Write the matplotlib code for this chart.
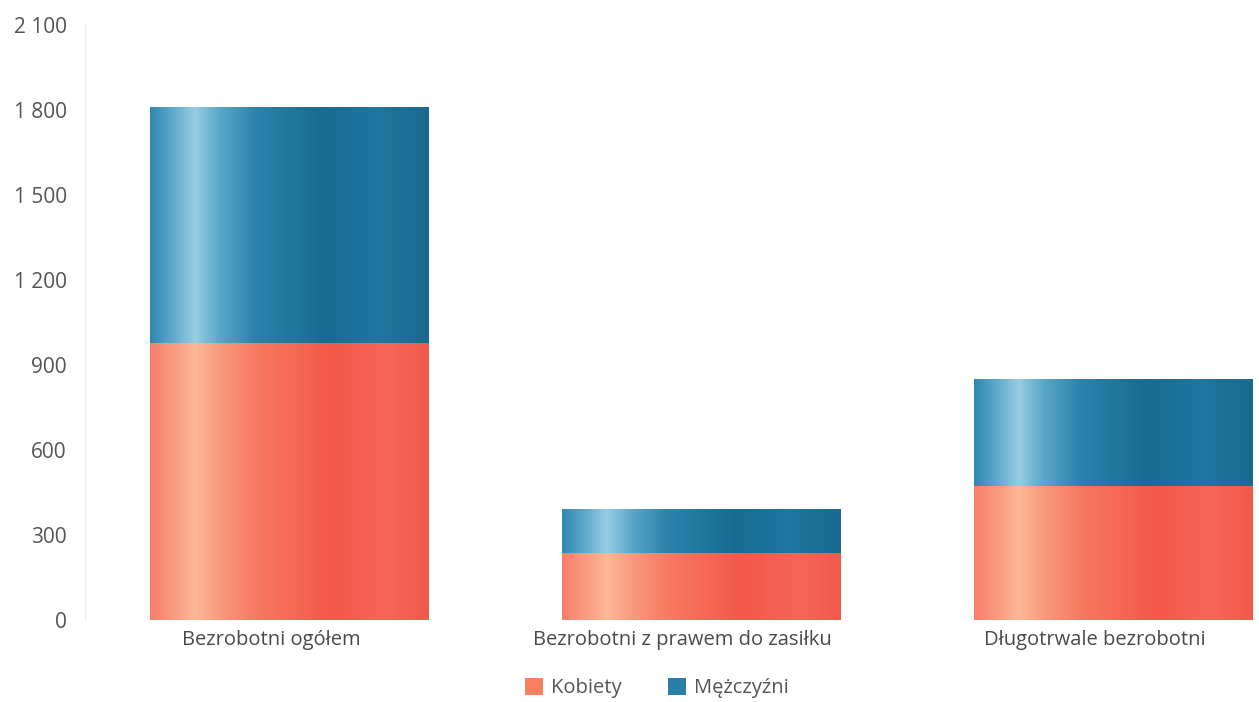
import numpy as np
import matplotlib
matplotlib.use("Agg")
import matplotlib.pyplot as plt
import matplotlib.transforms as mtransforms
from matplotlib.colors import LinearSegmentedColormap
from matplotlib.patches import Patch

plt.rcParams['font.family'] = ['Open Sans', 'DejaVu Sans']

categories = ["Bezrobotni ogółem", "Bezrobotni z prawem do zasiłku", "Długotrwale bezrobotni"]
kobiety = [977, 238, 472]
mezczyzni = [835, 153, 378]
yticks = [0, 300, 600, 900, 1200, 1500, 1800, 2100]
ytick_labels = ["0", "300", "600", "900", "1 200", "1 500", "1 800", "2 100"]

# horizontal shading across each bar (light streak near the left edge)
blue_cmap = LinearSegmentedColormap.from_list("blue", [
    (0.0, "#2f87b0"), (0.08, "#5ea9cc"), (0.16, "#98cde4"), (0.25, "#5aa6c8"),
    (0.38, "#2b82aa"), (0.62, "#186c93"), (0.82, "#1f769e"), (1.0, "#196a90")])
red_cmap = LinearSegmentedColormap.from_list("red", [
    (0.0, "#f7806a"), (0.08, "#f99a7e"), (0.16, "#fcb898"), (0.25, "#f99a7c"),
    (0.38, "#f77a62"), (0.65, "#f3584a"), (0.85, "#f66656"), (1.0, "#f25a4b")])

fig = plt.figure(figsize=(12.59, 7.02), dpi=100)
ax = fig.add_axes([0.0675, 0.1168, 0.9325, 0.8476])

x = np.arange(len(categories))
width = 0.675
bars_k = ax.bar(x, kobiety, width, color="#f4735a", label="Kobiety")
bars_m = ax.bar(x, mezczyzni, width, bottom=kobiety, color="#2a7fa8", label="Mężczyźni")

grad = np.linspace(0, 1, 256).reshape(1, -1)
for bars, cmap in [(bars_k, red_cmap), (bars_m, blue_cmap)]:
    for rect in bars:
        x0, y0 = rect.get_x(), rect.get_y()
        w, h = rect.get_width(), rect.get_height()
        im = ax.imshow(grad, cmap=cmap, aspect="auto", extent=[x0, x0 + w, y0, y0 + h],
                       zorder=2, interpolation="bicubic")
        im.set_clip_path(rect)
        rect.set_facecolor("none")
        rect.set_edgecolor("none")

ax.set_xlim(-0.495, 2.355)
ax.set_ylim(0, 2100)

ax.set_yticks(yticks)
ax.set_yticklabels(ytick_labels)
ax.set_xticks(x)
ax.set_xticklabels(categories)
ax.tick_params(axis="y", length=0, pad=13, labelsize=15, labelcolor="#555555")
ax.tick_params(axis="x", length=0, pad=7, labelsize=14.5, labelcolor="#4a4a4a")

# category labels sit a bit left of the bar centres in the original
shift = mtransforms.ScaledTranslation(-18 / 100, 0, fig.dpi_scale_trans)
for lbl in ax.get_xticklabels():
    lbl.set_transform(lbl.get_transform() + shift)

for s in ["top", "right", "bottom"]:
    ax.spines[s].set_visible(False)
ax.spines["left"].set_color("#e6f0f4")
ax.spines["left"].set_linewidth(0.8)

handles = [Patch(facecolor="#f7805f", label="Kobiety"),
           Patch(facecolor="#2a7fa8", label="Mężczyźni")]
fig.legend(handles=handles, loc="center", bbox_to_anchor=(0.522, 0.02), ncol=2,
           frameon=False, fontsize=14.5, handlelength=0.9, handleheight=0.9,
           columnspacing=2.3, handletextpad=0.4, labelcolor="#555555")

fig.savefig("out.png", dpi=100)
